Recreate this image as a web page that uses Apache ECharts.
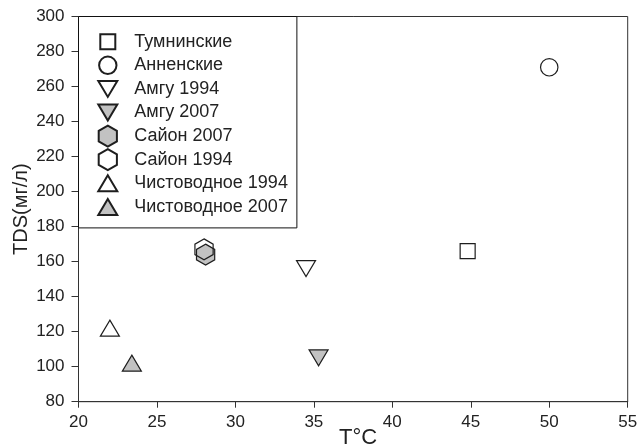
<!DOCTYPE html>
<html>
<head>
<meta charset="utf-8">
<script src="https://cdn.jsdelivr.net/npm/echarts@6/dist/echarts.min.js"></script>
<style>
  html, body { margin: 0; padding: 0; background: #fff; }
  #chart { width: 641px; height: 446px; }
</style>
</head>
<body>
<div id="chart"></div>
<script>
// Water temperature (°C) vs. total dissolved solids (mg/l) for thermal springs
const seriesNames = [
  'Тумнинские', 'Анненские', 'Амгу 1994', 'Амгу 2007',
  'Сайон 2007', 'Сайон 1994', 'Чистоводное 1994', 'Чистоводное 2007'
];
const temperatureC = [44.8, 50.0, 34.5, 35.3, 28.1, 28.0, 22.0, 23.4];
const tdsMgL       = [166, 271, 156, 105, 164, 167, 122, 102];
const filled       = [false, false, false, true, true, false, false, true];
const shapeKeys    = ['square', 'circle', 'triDown', 'triDown', 'hexagon', 'hexagon', 'triUp', 'triUp'];

const xTicks = { min: 20, max: 55, step: 5 };
const yTicks = { min: 80, max: 300, step: 20 };

// Symbol outlines drawn in a shared 22x22 frame (the leading moves fix the frame)
const FRAME = 'M0,0M22,22';
const shapes = {
  square:  FRAME + 'M3.5,3.5L18.5,3.5L18.5,18.5L3.5,18.5Z',
  circle:  FRAME + 'M2.3,11A8.7,8.7 0 1,1 19.7,11A8.7,8.7 0 1,1 2.3,11Z',
  triDown: FRAME + 'M1.5,3L20.5,3L11,19Z',
  triUp:   FRAME + 'M11,3L20.5,19L1.5,19Z',
  hexagon: FRAME + 'M11,0.5L20.1,5.75L20.1,16.25L11,21.5L1.9,16.25L1.9,5.75Z'
};

const STROKE = '#1e1e1e';
const GREY = '#c2c2c2';
const FONT = '"Liberation Sans", Arial, sans-serif';

const series = seriesNames.map((name, i) => ({
  name: name,
  type: 'scatter',
  data: [[temperatureC[i], tdsMgL[i]]],
  symbol: 'path://' + shapes[shapeKeys[i]],
  symbolSize: 22,
  symbolKeepAspect: true,
  itemStyle: {
    color: filled[i] ? GREY : 'rgba(255,255,255,0)',
    borderColor: STROKE,
    borderWidth: 1.2,
    opacity: 1
  },
  emphasis: { disabled: true },
  z: 3
}));

const chart = echarts.init(document.getElementById('chart'), null, { renderer: 'canvas' });
chart.setOption({
  animation: false,
  backgroundColor: '#fff',
  textStyle: { fontFamily: FONT },
  grid: {
    left: 78.5, right: 13.3, top: 16.5, bottom: 44.3,
    containLabel: false,
    outerBoundsMode: 'none',
    show: true, borderColor: '#333', borderWidth: 1
  },
  legend: {
    orient: 'vertical',
    left: 78.5, top: 16.5,
    itemWidth: 22, itemHeight: 22, itemGap: -0.4,
    symbolKeepAspect: true,
    padding: [13.2, 9, 9, 17.3],
    borderColor: '#111', borderWidth: 1,
    backgroundColor: '#fff',
    selectedMode: false,
    textStyle: { fontFamily: FONT, fontSize: 18, color: '#222', padding: [0, 0, 0, 10.5] },
    data: seriesNames
  },
  xAxis: {
    type: 'value',
    min: xTicks.min, max: xTicks.max, interval: xTicks.step,
    name: 'T°C',
    nameLocation: 'middle',
    nameGap: 25,
    nameMoveOverlap: false,
    nameTextStyle: { fontFamily: FONT, fontSize: 22, color: '#222', padding: [0, 0, 0, 10] },
    axisLine: { show: true, lineStyle: { color: '#333', width: 1 } },
    axisTick: { show: true, inside: false, length: 6, lineStyle: { color: '#333' } },
    axisLabel: { fontFamily: FONT, fontSize: 17, color: '#222', margin: 12 },
    splitLine: { show: false }
  },
  yAxis: {
    type: 'value',
    min: yTicks.min, max: yTicks.max, interval: yTicks.step,
    name: 'TDS(мг/л)',
    nameLocation: 'middle',
    nameGap: 47,
    nameMoveOverlap: false,
    nameTextStyle: { fontFamily: FONT, fontSize: 20, color: '#222' },
    axisLine: { show: true, lineStyle: { color: '#333', width: 1 } },
    axisTick: { show: true, inside: false, length: 7, lineStyle: { color: '#333' } },
    axisLabel: { fontFamily: FONT, fontSize: 17, color: '#222', margin: 14 },
    splitLine: { show: false }
  },
  series: series
});
</script>
</body>
</html>
